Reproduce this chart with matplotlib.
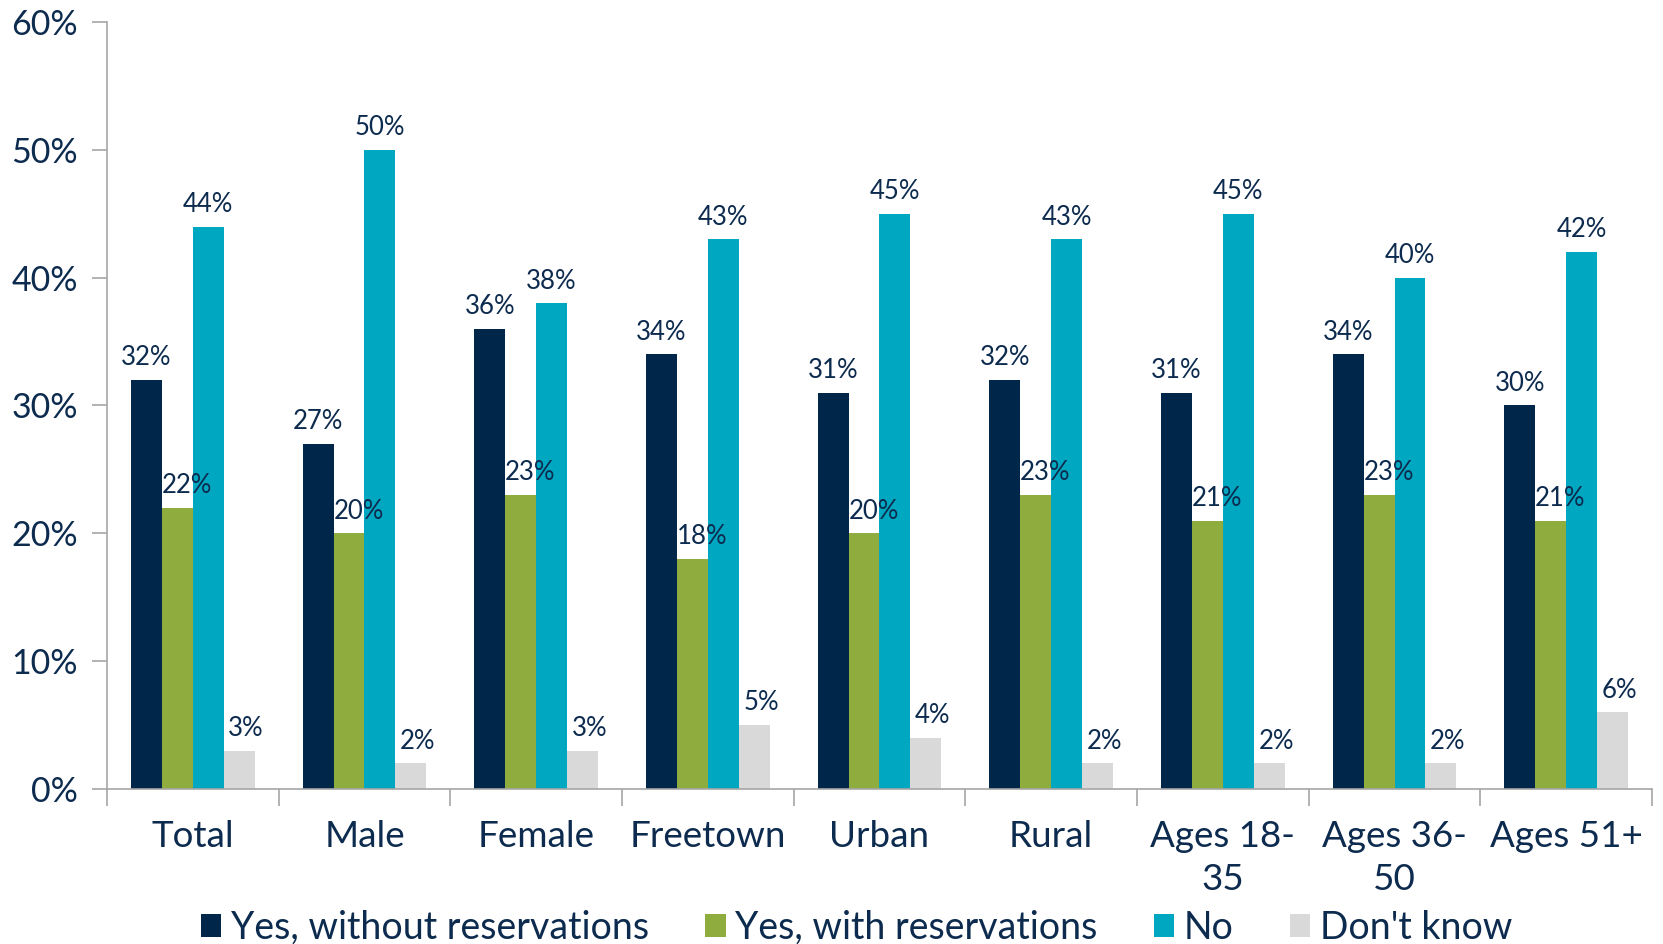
import numpy as np
import matplotlib.pyplot as plt
from matplotlib.ticker import PercentFormatter

# Données
categories = ['Total', 'Male', 'Female', 'Freetown', 'Urban', 'Rural',
              'Ages 18-\n35', 'Ages 36-\n50', 'Ages 51+']
series_names = ['Yes, without reservations', 'Yes, with reservations', 'No', "Don't know"]
yes_without = [32, 27, 36, 34, 31, 32, 31, 34, 30]
yes_with = [22, 20, 23, 18, 20, 23, 21, 23, 21]
no = [44, 50, 38, 43, 45, 43, 45, 40, 42]
dont_know = [3, 2, 3, 5, 4, 2, 2, 2, 6]

colors = ['#00264a', '#8fad3f', '#00a7c1', '#d9d9d9']
label_dx = [0, 7, 0, 5]   # décalage horizontal des étiquettes (points)
text_color = '#0d2b4e'
axis_color = '#a6a6a6'

plt.rcParams['font.family'] = ['Lato', 'DejaVu Sans']

fig = plt.figure(figsize=(16.63, 9.44), dpi=100)
ax = fig.add_axes([0.0643, 0.1642, 0.9291, 0.8125])

x = np.arange(len(categories))
w = 0.18
all_series = [yes_without, yes_with, no, dont_know]
for i, (vals, name) in enumerate(zip(all_series, series_names)):
    pos = x + (i - 1.5) * w
    ax.bar(pos, vals, width=w, color=colors[i], label=name, zorder=2)
    for px, v in zip(pos, vals):
        ax.annotate(f'{v}%', (px, v), xytext=(label_dx[i], 7), textcoords='offset points',
                    ha='center', va='bottom', fontsize=18.5, color=text_color, zorder=3)

ax.set_xlim(-0.5, len(categories) - 0.5)
ax.set_ylim(0, 60)
ax.set_yticks(np.arange(0, 61, 10))
ax.yaxis.set_major_formatter(PercentFormatter(decimals=0))

ax.set_xticks(x)
ax.set_xticklabels(categories, linespacing=1.4)
ax.set_xticks(np.arange(-0.5, len(categories), 1), minor=True)
ax.tick_params(axis='x', which='major', length=0, pad=22, labelsize=26.5, labelcolor=text_color)
ax.tick_params(axis='x', which='minor', length=12, width=1.2, color=axis_color)
ax.tick_params(axis='y', length=11, width=1.2, color=axis_color, pad=10,
               labelsize=24.5, labelcolor=text_color)

for s in ['top', 'right']:
    ax.spines[s].set_visible(False)
for s in ['left', 'bottom']:
    ax.spines[s].set_color(axis_color)
    ax.spines[s].set_linewidth(1.2)

fig.legend(loc='center', bbox_to_anchor=(0.515, 0.017), ncol=4, frameon=False,
           fontsize=27, labelcolor=text_color, handlelength=0.55, handleheight=0.55,
           handletextpad=0.25, columnspacing=1.5)

fig.savefig('out.png', dpi=100)
